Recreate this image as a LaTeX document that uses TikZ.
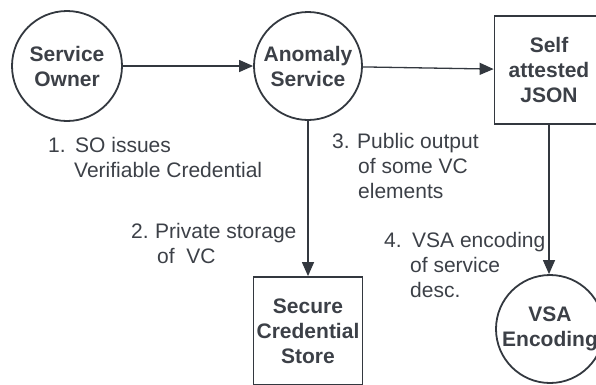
\documentclass[tikz,border=0pt]{standalone}
\usepackage{fontspec}
\setmainfont{Liberation Sans}
\usepackage{tikz}
\usetikzlibrary{arrows.meta,positioning}
\definecolor{ink}{HTML}{33383F}
\definecolor{txt}{HTML}{3C4047}
\newcommand{\hang}{\hspace*{26pt}}

\begin{document}
\begin{tikzpicture}[x=1pt,y=-1pt,
	actor/.style={circle, draw=ink, line width=1.8pt, inner sep=0, minimum size=108pt, align=center, font=\fontsize{21pt}{25pt}\selectfont\bfseries, text=txt},
	store/.style={rectangle, draw=ink, line width=1.8pt, inner sep=0, minimum width=109pt, minimum height=108pt, align=center, font=\fontsize{21pt}{25pt}\selectfont\bfseries, text=txt},
	steplab/.style={anchor=north west, inner sep=0, align=left, font=\fontsize{21pt}{25pt}\selectfont, text=txt},
	flow/.style={draw=ink, line width=1.3pt, -{Triangle[length=14pt,width=12pt]}}]

		\useasboundingbox (0,0) rectangle (596,384);
		\clip (0,0) rectangle (596,384);
		%actors
		\node[actor,minimum size=110pt] at (67,66) (owner) {Service\\Owner};
		\node[actor] at (308,66) (anomaly) {Anomaly\\Service};
		\node[store] at (549,70) (json) {Self\\attested\\JSON};
		\node[store] at (308,331) (secure) {Secure\\Credential\\Store};
		\node[actor] at (550,329) (vsa) {VSA\\Encoding};
		%flows
		\draw[flow] (owner) -- (anomaly);
		\draw[flow] (anomaly) -- (json);
		\draw[flow] (anomaly) -- (secure);
		\draw[flow] (json.south) -- (json.south |- vsa.north);
		%steps
		\node[steplab] at (48,137) (s1) {\makebox[27pt][l]{1.}SO issues\\\hang Verifiable Credential};
		\node[steplab] at (131,223) (s2) {\makebox[24pt][l]{2.}Private storage\\\hang of\ \ VC};
		\node[steplab] at (332,133) (s3) {\makebox[25pt][l]{3.}Public output\\\hang of some VC\\\hang elements};
		\node[steplab] at (384,232) (s4) {\makebox[28pt][l]{4.}VSA encoding\\\hang of service\\\hang desc.};
	\end{tikzpicture}
\end{document}
